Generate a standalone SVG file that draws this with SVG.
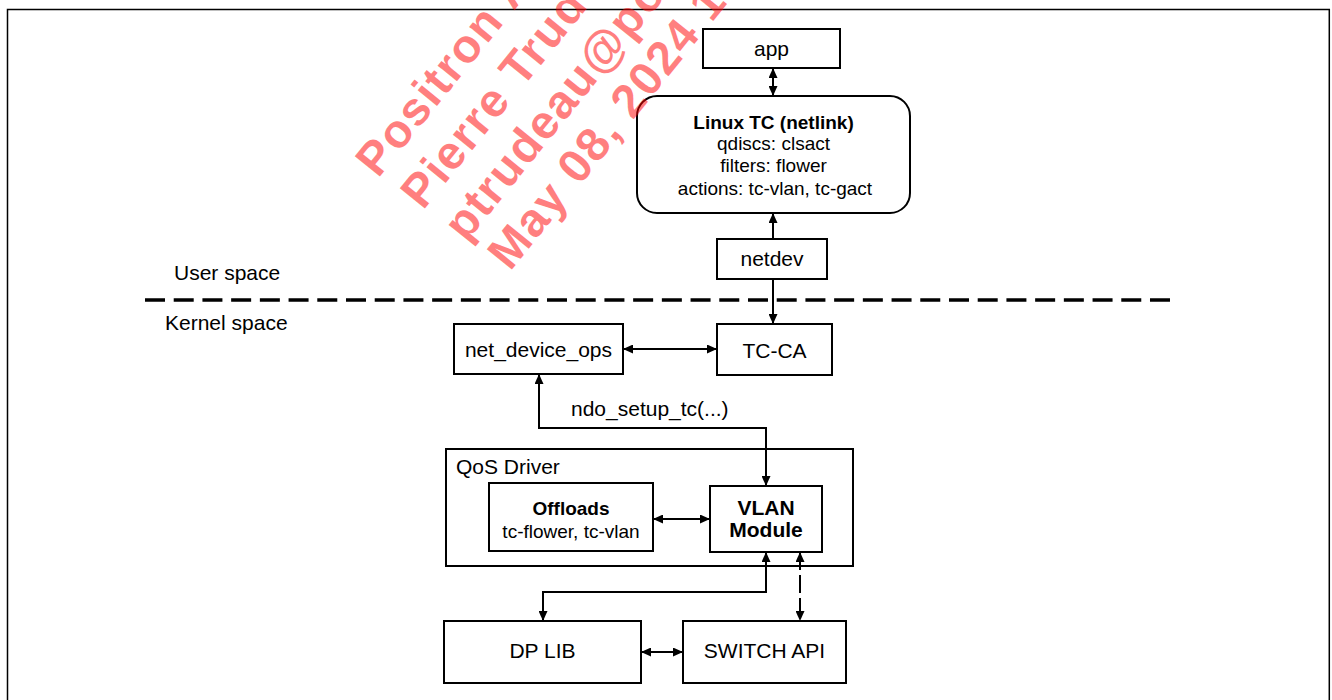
<svg xmlns="http://www.w3.org/2000/svg" width="1332" height="700" viewBox="0 0 1332 700">
  <style>
    .box { fill: #ffffff; stroke: #000000; stroke-width: 2; }
    .lbl { font-family: "Liberation Sans", Arial, sans-serif; font-size: 21px; fill: #000000; }
    .mid { text-anchor: middle; }
    .tc { font-size: 19px; }
    .b { font-weight: bold; }
    .wire { fill: none; stroke: #000000; stroke-width: 2; }
    .wm { font-family: "Liberation Sans", Arial, sans-serif; font-size: 47px; font-weight: bold; letter-spacing: 1.5px; fill: #ff0000; fill-opacity: 0.5; }
  </style>
  <defs>
    <marker id="arr" viewBox="0 0 10 9" refX="10" refY="4.5" markerWidth="10" markerHeight="9" markerUnits="userSpaceOnUse" orient="auto-start-reverse">
      <path d="M0,0 L10,4.5 L0,9 z" fill="#000000"/>
    </marker>
  </defs>

  <rect width="1332" height="700" fill="#ffffff"/>

  <!-- page frame -->
  <path d="M7.5,702 V9.5 H1329.3 V702" fill="none" stroke="#000000" stroke-width="1.5"/>

  <!-- user / kernel boundary -->
  <line x1="145" y1="300" x2="1170" y2="300" stroke="#000000" stroke-width="3.5" stroke-dasharray="20 8.714"/>
  <text class="lbl" x="174" y="280">User space</text>
  <text class="lbl" x="165" y="330">Kernel space</text>

  <g id="app">
    <rect class="box" x="703" y="29" width="137" height="39"/>
    <text class="lbl mid" x="771.5" y="55.5">app</text>
  </g>

  <g id="linux-tc">
    <rect class="box" x="637" y="96" width="273" height="117" rx="20" ry="20"/>
    <text class="lbl tc mid b" x="773.5" y="128.5">Linux TC (netlink)</text>
    <text class="lbl tc mid" x="773.5" y="150">qdiscs: clsact</text>
    <text class="lbl tc mid" x="773.5" y="172">filters: flower</text>
    <text class="lbl tc mid" x="775" y="194.5">actions: tc-vlan, tc-gact</text>
  </g>

  <g id="netdev">
    <rect class="box" x="717" y="239" width="110" height="40"/>
    <text class="lbl mid" x="772" y="266">netdev</text>
  </g>

  <g id="tc-ca">
    <rect class="box" x="717" y="324" width="115" height="51"/>
    <text class="lbl mid" x="774.5" y="357.5">TC-CA</text>
  </g>

  <g id="net-device-ops">
    <rect class="box" x="454" y="324" width="169" height="50"/>
    <text class="lbl mid" x="538.5" y="357">net_device_ops</text>
  </g>

  <g id="qos-driver">
    <rect class="box" x="446" y="449" width="407" height="117"/>
    <text class="lbl" x="456" y="474">QoS Driver</text>
  </g>

  <g id="offloads">
    <rect class="box" x="489" y="483" width="164" height="68"/>
    <text class="lbl tc mid b" x="571" y="515">Offloads</text>
    <text class="lbl tc mid" x="571" y="537.5">tc-flower, tc-vlan</text>
  </g>

  <g id="vlan-module">
    <rect class="box" x="710" y="486" width="112" height="66"/>
    <text class="lbl mid b" x="766" y="515" font-size="17.5">VLAN</text>
    <text class="lbl mid b" x="766" y="537" font-size="17.5">Module</text>
  </g>

  <g id="dp-lib">
    <rect class="box" x="444" y="621" width="197" height="62"/>
    <text class="lbl mid" x="542.5" y="658">DP LIB</text>
  </g>

  <g id="switch-api">
    <rect class="box" x="683" y="621" width="163" height="62"/>
    <text class="lbl mid" x="764.5" y="658">SWITCH API</text>
  </g>

  <!-- connectors -->
  <g id="connectors">
    <line class="wire" x1="773" y1="68" x2="773" y2="96" marker-start="url(#arr)" marker-end="url(#arr)"/>
    <line class="wire" x1="773" y1="239" x2="773" y2="213" marker-end="url(#arr)"/>
    <line class="wire" x1="773" y1="279" x2="773" y2="324" marker-end="url(#arr)"/>
    <line class="wire" x1="623" y1="349" x2="717" y2="349" marker-start="url(#arr)" marker-end="url(#arr)"/>
    <path class="wire" d="M766,486 V428 H539 V374" marker-start="url(#arr)" marker-end="url(#arr)"/>
    <text class="lbl" x="571" y="416">ndo_setup_tc(...)</text>
    <line class="wire" x1="653" y1="519" x2="710" y2="519" marker-start="url(#arr)" marker-end="url(#arr)"/>
    <path class="wire" d="M766,552 V592 H543 V621" marker-start="url(#arr)" marker-end="url(#arr)"/>
    <line class="wire" x1="800" y1="552" x2="800" y2="621" stroke-width="3" stroke-dasharray="18 5" marker-start="url(#arr)" marker-end="url(#arr)"/>
    <line class="wire" x1="641" y1="652" x2="683" y2="652" marker-start="url(#arr)" marker-end="url(#arr)"/>
  </g>

  <!-- watermark -->
  <g id="watermark">
    <text class="wm" transform="translate(378,179) rotate(-51)">Positron A</text>
    <text class="wm" transform="translate(423,211) rotate(-51)">Pierre Trudeau</text>
    <text class="wm" transform="translate(466,243) rotate(-51)">ptrudeau@positron</text>
    <text class="wm" transform="translate(510,272) rotate(-51)">May 08, 2024 1</text>
  </g>
</svg>
